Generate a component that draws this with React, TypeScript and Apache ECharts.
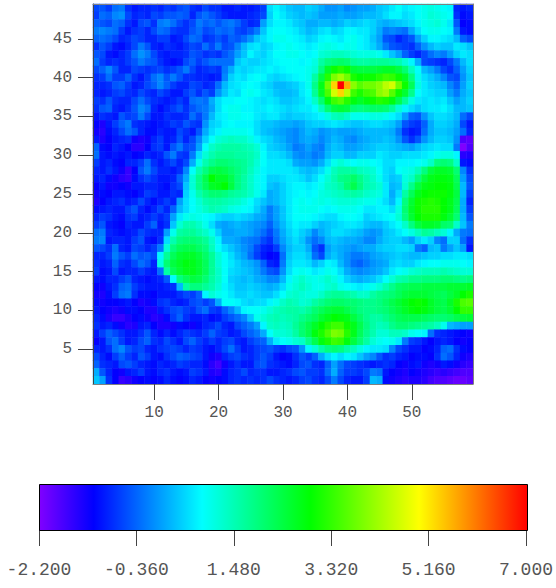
import React, { useEffect, useRef } from "react";
import * as echarts from "echarts";

const rampColors = ["#8000ff","#0000ff","#0080ff","#00ffff","#00ff80","#00ff00","#80ff00","#ffff00","#ff8000","#ff0000"];
const colorbarLabels = ["-2.200","-0.360","1.480","3.320","5.160","7.000"];
const xCategories = Array.from({ length: 59 }, (_, i) => String(i + 1));
const yCategories = Array.from({ length: 49 }, (_, i) => String(i + 1));

// rows from y = 49 (top) down to y = 1, 59 columns each
const valueRows: number[][] = [
[-.6,-.5,-.7,-.3,-.2,-.8,-1,-.9,-.9,-.8,-.9,-.7,-.8,-.6,-.5,-.8,-.9,-.6,-.8,-.8,-1,-1,-.9,-1,-1,-.9,-.7,.6,.8,.6,.4,.3,.3,.5,.4,.2,0,0,.1,-.1,0,.1,.1,.2,.4,.5,.7,.9,.7,.8,.9,1,1.1,1,.9,.8,-.9,-1,-.9],
[-.7,-.3,-.4,-.1,0,-.6,-.9,-.8,-.9,-.6,-.7,-.5,-.5,-.4,-.5,-.9,-.5,-.3,-.5,-.7,-.9,-1,-1,-1,-.9,-.8,-.6,.5,.9,.7,.5,.4,.3,.4,.3,.1,.1,.1,.2,.1,.1,.2,.3,.3,.4,.6,.8,.8,.6,.7,.9,1,1.2,1.1,1,.9,-.8,-1.1,-1],
[-.4,-.5,-.6,-.3,-.4,-.8,-1,-.6,-.5,-.8,-.2,-.1,-.3,-.6,-.8,-.6,-.2,-.4,-.3,-.5,-.3,-.2,-.4,-.7,-.9,-.8,.1,.6,.8,.8,.7,.5,.4,.2,.2,.3,.3,.2,.3,.5,.4,.5,.6,.5,.3,.2,.3,.4,.5,.6,.8,1,1.1,1.2,1,.7,-.5,-1.2,-1.1],
[-.2,-.1,-.2,-.3,-.7,-1,-.8,-.7,-.9,-.6,-.3,-.4,-.7,-.8,-.8,-.5,-.3,-.6,-.5,-.3,-.4,-.3,-.6,-.7,-.5,-.2,.4,.8,.9,.9,.8,.7,.5,.3,.4,.6,.7,.5,.6,.8,.8,.7,.7,.5,.2,-.2,-.1,-.2,-.3,.2,.6,.9,1,1,.9,.8,-.2,-1,-1.1],
[-.4,-.3,-.4,-.6,-.9,-.8,-.6,-.7,-.9,-.9,-.7,-.7,-1,-.9,-.6,-.3,-.4,-.8,-.7,-.5,-.7,-.4,-.5,-.3,0,.4,.6,.8,1,1,.9,.8,.7,.5,.6,.8,.9,.8,.7,.9,1,.8,.7,.4,.1,-.5,-.6,-.9,-.7,-.5,.1,.5,.8,.8,.7,.6,.3,-.4,-.6],
[-.8,-.5,-.7,-1,-1.1,-.9,-.6,-.2,-.5,-.9,-1,-.8,-.9,-1,-.8,-.6,-.7,-.3,-.6,-.2,-.6,-.5,-.1,.3,.6,.7,.5,.6,.8,.9,1,.9,.8,.7,.8,1,1.1,1,.9,1,1,.8,.7,.5,.2,-.2,-.5,-.6,-.7,-.8,-.4,0,.3,.5,.4,.4,.7,.6,.4],
[-.5,-.6,-1,-1.1,-.9,-.7,-.3,0,-.2,-.6,-.9,-1,-.9,-.9,-.8,-.5,-.6,-.8,-.7,-.8,-.5,-.3,.1,.4,.8,.6,.5,.7,.9,.9,1,1,.9,.8,.9,1.2,1.3,1.4,1.4,1.3,1.2,1.1,1.1,1.1,1,.7,.4,.1,-.4,-.7,-.9,-.6,-.3,-.1,-.2,.1,.5,.7,.6],
[-.3,-.7,-.9,-.8,-.9,-.7,-.5,-.2,-.4,-.5,-.8,-1,-1.1,-1,-.6,-.4,-.7,-.5,-.3,-.3,-.3,-.3,.4,.6,.5,.5,.6,.7,.8,.9,.9,.9,.8,.9,1.1,1.6,1.9,2,2.1,2,1.7,1.6,1.6,1.7,1.7,1.7,1.6,1.5,1.2,.8,.2,-.6,-.7,-.8,-.9,-.6,-.2,.3,.6],
[-.6,-.4,-.1,-.5,-.9,-.9,-.6,-.7,-.8,-.7,-.6,-.8,-.7,-.5,-.2,-.6,-.9,-.8,-.7,-.8,-.2,.2,.6,.5,.6,.7,.7,.8,.7,.8,.9,.9,.9,1,1.2,1.9,2.6,3,3.2,3,2.5,2.4,2.4,2.4,2.5,2.6,2.6,2.4,2,1.4,.9,.3,.1,-.2,-.6,-.8,-.4,.1,.5],
[-.8,-.7,-.3,-.7,-.7,-.4,-.8,-1,-.7,-.3,-.1,-.5,-.2,-.5,-.8,-.8,-.9,-.9,-1,-.9,-.1,.5,.7,.6,.8,.9,.8,.6,.5,.6,.7,.8,.9,1,1.6,2.4,3.2,3.9,4.2,3.8,3.1,2.9,3,3,3.2,3.4,3.3,3,2.6,1.9,1,.6,.4,.2,-.1,-.5,-.6,0,.4],
[-.9,-.9,-.8,-.5,-.4,-.7,-1,-.9,-.6,-.4,-.1,-.4,-.7,-.9,-.9,-.6,-.7,-.9,-.8,-.3,.3,.6,.7,.8,.9,.8,.6,.5,.3,.3,.4,.5,.7,1,1.8,2.7,3.8,5.3,7,5.6,4,3.6,3.8,3.8,4,4.4,4.6,3.8,3,2.2,1.1,.7,.5,.4,.3,-.1,-.4,.1,.5],
[-.9,-1,-.9,-.7,-.6,-.8,-.9,-.6,-.8,-.9,-.6,-.8,-1,-1,-.7,-.5,-.8,-.5,-.7,0,.4,.7,.6,.9,1,.9,.7,.6,.4,.3,.3,.4,.7,.9,1.7,2.6,3.5,4.6,5.3,4.4,3.4,3.1,3.4,3.5,4,4.2,3.6,3,2.5,1.8,.9,.7,.6,.5,.5,.1,-.2,.2,.4],
[-.7,-.8,-.5,-.8,-.9,-.9,-.6,-.3,-.6,-.8,-.9,-1,-.9,-.7,-.9,-.3,-.2,-.3,.2,.6,.8,.8,.9,.9,.8,.7,.6,.7,.6,.4,.4,.5,.6,.8,1.3,2,2.8,3.4,3.6,3.2,2.8,2.6,2.8,3,3.2,3.1,2.8,2.3,1.7,1.1,.7,.6,.7,.6,.7,.4,.1,.3,.5],
[-.8,-.5,-.4,-.9,-1,-.8,-.5,-.1,-.3,-.9,-1.1,-.9,-.7,-.5,-.8,-.5,-.3,-.2,.1,.6,.9,1,1,.8,.8,.7,.7,.8,.7,.6,.5,.6,.7,.7,.9,1.4,2,2.4,2.5,2.4,2,1.9,2,2.1,2.1,2,1.7,1.2,.8,.6,.4,.6,.7,.7,.8,.6,.3,.3,.4],
[-1,-.8,-.9,-1,-.5,-.7,-.6,-.2,-.6,-1,-1,-.8,-.9,-.9,-.8,-.3,-.6,-.2,.3,.7,.8,1,1,.9,.9,.7,.6,.7,.7,.5,.4,.5,.5,.6,.7,.8,1.1,1.4,1.5,1.3,1,1,1,1.1,1.1,1,.8,.6,.1,-.4,-.5,0,.4,.6,.6,.5,.3,-.3,-.6],
[-1.2,-1.4,-1,-.7,-.4,-.2,-.8,-.9,-1,-1.1,-1,-.9,-.7,-.8,-.5,-.7,-.8,0,.5,.6,.8,.9,.8,.8,.8,.6,.4,.4,.3,.2,.2,.1,.2,.4,.5,.5,.6,.7,.6,.5,.4,.4,.5,.6,.6,.5,.4,.1,-.5,-.7,-.8,-.4,.2,.5,.5,.4,.2,-.6,-1],
[-1.3,-1.5,-1.1,-.9,-.6,-.3,-.5,-.9,-1.1,-1.1,-.9,-1,-1,-.6,-.8,-1,-.5,.2,.6,.8,1,1,1,1,.9,.6,.4,.3,.2,.1,0,-.1,.1,.3,.2,0,.1,.2,.1,.1,.1,.2,.3,.3,.3,.3,.2,-.2,-.8,-1,-.9,-.3,.2,.4,.4,.3,.1,-.3,-.9],
[-1,-1.4,-1.2,-1,-.9,-.8,-1.3,-1.4,-1.3,-.9,-.7,-1,-.9,-.5,-.9,-.6,-.1,.5,.9,1.2,1.3,1.4,1.3,1.3,1.1,.8,.6,.5,.3,.2,0,-.1,.1,.2,.1,-.1,.1,.3,.2,0,-.1,.1,.2,.3,.3,.4,.3,0,-.5,-.8,-.5,0,.3,.5,.5,.4,0,-1.8,-1.9],
[-.4,-1.1,-1.2,-.9,-1,-1.2,-1.5,-1.5,-1.2,-.8,-.7,-1,-.5,-.2,-.6,-.5,.1,.9,1.3,1.5,1.6,1.6,1.6,1.5,1.4,1.2,.8,.5,.4,.3,.1,-.2,-.1,.1,-.1,-.2,.2,.4,.3,.1,.1,.2,.3,.4,.5,.5,.4,.3,.2,.1,.3,.5,.6,.7,.6,.6,-.2,-2.2,-1.8],
[-.3,-1,-1.1,-1,-1.1,-1,-1.2,-1.1,-.9,-1,-.9,-.5,-.2,-.7,-.8,-.2,.6,1.2,1.5,1.7,1.7,1.7,1.6,1.6,1.5,1.3,.9,.6,.6,.5,.3,0,-.1,0,-.2,-.1,.3,.5,.5,.3,.3,.5,.5,.5,.7,.6,.5,.5,.6,.6,.6,.7,.8,1,1.1,1.1,.8,-1.5,-1.4],
[-.7,-1,-.9,-1.1,-1.2,-.9,-.9,-.7,-.3,-.8,-1,-.8,-.6,-.9,-.6,.2,1,1.5,1.8,2,2,1.9,1.8,1.7,1.5,1.2,.9,.7,.7,.7,.6,.2,.1,.1,0,.2,.6,1,1.2,1,.9,1,1,.9,.8,.6,.6,.8,.8,.8,.9,1,1.3,1.9,2,1.9,1.3,-1,-1.1],
[-.9,-1,-.8,-1,-1.3,-1.6,-1.2,-.5,-.2,-.6,-.9,-.9,-1,-.8,-.1,.9,1.5,1.9,2.3,2.4,2.3,2.1,1.9,1.7,1.4,1.1,.8,.7,.7,.7,.7,.6,.4,.3,.4,.6,1,1.4,1.6,1.6,1.6,1.4,1.3,1.2,.9,.6,.5,.9,1,1.1,1.4,1.9,2.4,2.6,2.6,2.5,2,-.1,-.8],
[-1,-.9,-1.1,-1.3,-1.5,-1.6,-1.1,-.8,-.6,-.8,-1,-1,-.9,-.4,.2,1.2,1.8,2.3,2.9,2.6,2.6,2.3,1.9,1.6,1.3,1,.8,.5,.5,.6,.7,.7,.6,.4,.6,.9,1.2,1.5,1.8,1.9,2.1,1.8,1.5,1.3,1,.6,.4,.5,1.1,1.3,1.9,2.4,2.7,2.8,2.8,2.7,2.2,.1,-.6],
[-1.2,-1,-1.3,-1.3,-1.2,-1.3,-1,-1,-.9,-.9,-1,-1.1,-.8,-.6,.4,1.2,1.8,2.2,2.6,2.7,2.9,2.4,1.9,1.6,1.3,1,.8,.4,.3,.5,.7,.8,.8,.7,.8,1,1.3,1.4,1.6,2,2.3,1.9,1.5,1.4,1.2,.7,.3,.4,1.2,1.8,2.4,2.7,2.8,2.9,2.9,2.8,2.3,.3,-.5],
[-1.3,-1.1,-1.2,-1,-1,-1.1,-1.2,-1,-.7,-.8,-1,-1,-.8,-.9,.5,1,1.5,1.8,2,2,1.9,1.7,1.6,1.5,1.3,1,.7,.2,.3,.5,.7,.8,.9,.8,.9,1.1,1.2,1.3,1.4,1.5,1.6,1.5,1.3,1.2,1.1,.7,.2,.6,1.6,2.2,2.7,2.9,3,3,3,2.8,2.4,.3,-.7],
[-1.4,-1.2,-1,-.9,-.8,-1,-.9,-.6,-.9,-1.1,-.9,-.7,-.9,.1,.6,.9,1.2,1.5,1.6,1.6,1.5,1.4,1.3,1.1,.9,.6,.4,.2,.3,.5,.7,.9,1,.9,1,1.1,1,1.1,1.2,1.2,1.2,1.1,1,1,.8,.6,.3,.8,1.9,2.5,3,3.1,3.2,3.1,2.9,2.7,2.3,.2,-.9],
[-1.1,-1,-.9,-1,-1,-.7,-.5,-.9,-1.1,-.9,-.6,-.9,-.4,.3,.6,.9,1.1,1.3,1.5,1.4,1.3,1.1,1,.9,.8,.5,.2,-.2,.1,.4,.7,.9,1,1,1,.9,.8,.9,1,1,1,.9,.7,.7,.8,.8,.6,1.1,2,2.6,3,3.2,3.2,3.2,2.9,2.7,2.2,.2,-.7],
[-.9,-.7,-.8,-1,-1.1,-.8,-.7,-1,-.9,-.7,-.9,-.7,.1,.7,1,1.1,1,.9,.8,.6,.5,.5,.6,.5,.4,.2,.1,-.2,.1,.4,.7,.9,.9,.9,.8,.7,.6,.6,.8,.9,.9,.8,.5,.6,.7,.8,.9,1.2,1.9,2.5,2.9,3.1,3.1,3.1,2.8,2.5,2,.3,-.5],
[-.7,-.5,-1,-1.1,-1.2,-.9,-1,-1,-.7,-.4,-1,-.8,.4,1.2,1.5,1.5,1.3,1,.6,.2,.1,.2,.3,.2,.1,0,-.1,-.4,0,.3,.6,.8,.7,.7,.5,.3,.4,.5,.6,.7,.7,.6,.4,.3,.3,.5,.7,.9,1.3,1.9,2.4,2.6,2.6,2.5,2.1,2,1.3,.4,-.2],
[-.3,-.2,-.9,-1,-1.1,-1,-.9,-.6,-.8,-.9,-.9,.1,1,1.6,1.7,1.7,1.5,1.3,1,.5,.1,.1,.2,.2,.1,-.1,-.3,-.6,-.2,.2,.5,.7,.5,.3,-.1,.2,.4,.6,.6,.5,.4,.3,.1,0,.1,.4,.5,.7,.9,1.1,1.4,1.7,1.6,1.4,1.2,.8,.2,-.2,-.3],
[-.2,-.1,-1,-.9,-.9,-1,-.7,-.5,-1,-1.1,-.8,.6,1.5,1.9,2,2,1.9,1.7,1.3,.8,.2,.2,.1,-.1,-.2,-.3,-.6,-.8,-.3,.1,.4,.6,.4,0,-.3,-.1,.3,.4,.3,.2,.2,.1,-.1,-.1,.2,.4,.5,.5,.3,.1,.5,.7,.5,-.1,-.3,.5,.5,-.3,-.8],
[-.5,-.6,-.8,-.3,-.9,-1,-.6,-.7,-.9,-.7,-.2,1.2,1.9,2.2,2.3,2.3,2.1,1.9,1.4,.9,.6,.4,.2,0,-.2,-.6,-.9,-1,-.7,-.1,.3,.5,.5,.2,-.5,-.8,.1,.3,.2,.1,0,.1,.2,.2,.4,.5,.5,.6,.6,.5,-.2,-.4,.3,.4,-.2,.1,.4,.1,-1],
[-.9,-.9,-.7,-.2,-.5,-.7,-.3,-.5,-.4,-.6,.8,1.7,2.2,2.5,2.6,2.6,2.4,2.1,1.7,1.2,.9,.6,.3,.1,-.3,-.7,-1,-1.2,-1.1,-.3,.4,.6,.6,.4,-.3,-.6,.2,.4,.2,0,-.2,-.2,-.1,.1,.2,.3,.4,.5,.4,.3,.3,.4,.5,.5,.6,.6,.7,.7,.6],
[-.8,-1,-.9,-.4,-.8,-.9,-.6,-.3,-.5,-.9,1.1,2,2.4,2.6,2.8,2.7,2.5,2.2,1.7,1.2,.9,.7,.5,.3,.2,0,-.4,-.9,-1,-.2,.5,.7,.7,.6,.3,.5,.8,.7,.3,0,-.3,-.4,-.2,0,.1,.2,.5,.6,.5,.5,.7,.8,.9,.9,1,1,1,.9,.8],
[-.7,-1.1,-1,-.6,-1,-.9,-.9,-.7,-.9,-1,-.3,1.6,2.2,2.5,2.7,2.7,2.5,2.2,1.7,1.3,.9,.6,.5,.4,.3,.1,-.2,-.5,-.6,0,.6,.9,1,.9,.7,.8,1,.9,.6,.2,0,-.1,0,.1,.2,.4,.7,.9,1,1.2,1.3,1.4,1.4,1.4,1.5,1.4,1.3,1.2,1.2],
[-1,-1.1,-.9,-.9,-.7,-.5,-.9,-1,-1.1,-1,-.9,-.5,.9,1.9,2.2,2.4,2.3,2,1.6,1.3,.9,.5,.4,.3,.4,.2,.1,-.1,-.1,.3,.8,1.1,1.3,1.1,1,1.1,1.3,1.1,.8,.5,.3,.2,.3,.4,.6,.9,1.2,1.5,1.6,1.8,1.8,1.9,1.9,1.9,2,2,1.9,1.8,1.9],
[-1.2,-1.3,-1,-.8,-.4,-.3,-.7,-.9,-1,-1,-1,-.9,-.8,.3,1.6,1.9,1.9,1.7,1.5,1.2,.8,.6,.4,.4,.5,.4,.3,.2,.3,.6,1,1.2,1.4,1.2,1,1,1.2,1.3,1,.9,.8,.7,.8,1,1.2,1.5,1.8,2.1,2.2,2.3,2.3,2.4,2.4,2.4,2.4,2.5,2.5,2.5,2.6],
[-1.3,-1.4,-1.1,-.7,-.3,-.2,-.8,-1.1,-1.1,-1.2,-1,-1,-1,-.8,-.6,-.7,-.4,.8,1.2,1,.9,.7,.5,.5,.6,.5,.4,.4,.6,.9,1.2,1.3,1.2,1.1,1.1,1.3,1.6,1.7,1.7,1.6,1.5,1.3,1.3,1.6,1.8,1.9,2,2.2,2.4,2.5,2.5,2.5,2.4,2.3,2.2,2.4,2.6,2.9,3.1],
[-1.1,-1.3,-1.2,-1.2,-1.1,-1,-1.2,-1.4,-1.3,-1.1,-.8,-.7,-.9,-1,-.9,-.6,-.5,-.7,-.5,.2,.9,.9,.8,.6,.5,.6,.6,.8,1,1.3,1.5,1.4,1.2,1.3,1.6,1.8,2,2.1,2.1,2,2,1.9,1.8,1.8,1.9,2.1,2.3,2.5,2.7,2.9,3,2.9,2.6,2.4,2.3,2.6,3.1,3.5,3.6],
[-1,-1.2,-1.3,-1.4,-1.3,-1.1,-1.1,-1.2,-1.4,-1.4,-1,-.8,-.6,-.5,-.7,-.8,-.5,-.3,-.7,-.8,-.4,-.1,.3,.8,.9,.9,1,1.2,1.4,1.5,1.6,1.6,1.5,1.7,2,2.2,2.4,2.5,2.5,2.3,2.1,1.9,1.8,1.8,1.9,2,2.2,2.4,2.6,2.8,2.9,2.8,2.6,2.4,2.3,2.5,2.9,3.3,3.3],
[-.9,-1.1,-1.4,-1.6,-1.6,-1.4,-1.2,-1.1,-1.3,-1.5,-1.4,-1.1,-.7,-.4,-.8,-1,-1,-.9,-1.1,-1,-.7,-.5,-.3,-.1,.4,1,1.2,1.4,1.5,1.4,1.5,1.6,1.8,2,2.2,2.5,2.7,2.9,2.8,2.7,2.4,2.1,1.8,1.6,1.6,1.8,2,2.2,2.3,2.3,2.3,2.2,2.1,2,2,2.1,2.3,2.4,2.5],
[-.8,-1,-.9,-1.1,-1.3,-1.5,-1.4,-1,-.9,-1.2,-1.4,-1.4,-1.3,-1.1,-1.2,-1.3,-1.1,-.9,-.8,-.6,-.9,-1,-.6,-.4,-.2,.1,.8,1.3,1.4,1.3,1.4,1.7,2,2.3,2.6,2.9,3.2,3.4,3.4,3,2.7,2.3,1.9,1.6,1.4,1.5,1.8,2,2,1.9,1.8,1.7,1.6,1.4,1,.3,.2,.1,.1],
[-1,-.7,-.4,-.6,-.8,-1,-1,-.8,-.5,-.9,-1.1,-.9,-1.1,-.9,-.7,-.8,-.9,-.7,-.4,-.7,-.8,-1,-.9,-.6,-.4,-.2,.2,.9,1.2,1.2,1.3,1.6,2,2.3,2.8,3.1,3.5,3.9,3.8,3.2,2.7,2.2,1.8,1.5,1.2,1.2,1.4,1.4,1.3,1,.9,.8,-.3,-.8,-.9,-1,-1.1,-1.2,-1.3],
[-1.2,-1,-.5,-.3,-.7,-1,-.9,-.6,-.4,-.8,-.9,-.6,-.8,-1,-.6,-.4,-.7,-.9,-.7,-.9,-.7,-.6,-.9,-1,-.7,-.5,-.4,.2,.7,.9,1,1.2,1.3,1.8,2.3,2.8,3.1,3.4,3.3,2.8,2.4,2,1.6,1.2,1,.9,1,.7,-.2,-.7,-.8,-1,-1.2,-1,-.9,-1,-1.2,-1.3,-1.2],
[-.9,-1,-.8,-.3,-.1,-.5,-.7,-.6,-.9,-1,-.8,-.7,-.6,-.7,-.9,-.7,-.8,-1,-1.1,-.9,-.6,-.3,-.7,-1,-.9,-.7,-.6,-.5,-.7,-.8,-.6,-.5,0,.8,1.2,1.6,1.9,2,1.9,1.6,1.4,1.1,.8,.7,.7,.6,-.1,-.6,-.8,-1,-1,-1.2,-1.1,-.9,-.4,-.3,-.8,-1.1,-1.2],
[-.6,-.9,-1.1,-.7,-.4,-.7,-.9,-.5,-.7,-1,-1.1,-.8,-.6,-.4,-.5,-.6,-.7,-1,-1.3,-1.4,-.9,-.7,-.6,-.8,-.9,-.7,-.5,-.7,-1,-1.2,-1.1,-.8,-.5,-.7,-.4,.2,.6,.8,.6,.8,.7,.4,.1,-.1,-.5,-.8,-.7,-.9,-1,-1.2,-1.1,-1.1,-1.2,-.8,-.3,-.5,-.9,-1.3,-1.4],
[-.4,-.8,-.9,-1,-.6,-.5,-.7,-.9,-1,-1.1,-.9,-1,-.9,-.7,-.8,-.9,-.9,-1.1,-1.5,-1.7,-1.3,-1,-.8,-1,-1,-.6,-.5,-.8,-.9,-1,-1.1,-.9,-.6,-.5,-.8,-.9,-.4,.1,-.3,-.6,-.7,-.8,-.9,-1,-.9,-.8,-.9,-1.2,-1.3,-1.1,-1,-1.3,-1.4,-1.3,-1,-1.1,-1.3,-1.5,-1.6],
[.2,-.5,-.9,-1.2,-1.3,-1,-.9,-.7,-1,-1.1,-.9,-.8,-1,-1.1,-1,-.7,-.8,-1,-1.4,-1.5,-1.1,-.9,-.8,-.6,-.9,-.8,-.8,-1,-1,-.9,-.8,-.6,-.5,-.7,-.7,-.8,-.3,.2,-.4,-.7,-.7,-.8,-.6,-.2,-.3,-1,-1.2,-1.3,-1.4,-1.2,-1.3,-1.4,-1.5,-1.6,-1.5,-1.6,-1.7,-1.8,-1.8],
[.4,.1,-.8,-1.2,-1.6,-1.5,-1.3,-1.2,-1.1,-1.2,-1.1,-.9,-1.1,-1.2,-1.1,-.9,-1,-1.2,-1.3,-1.2,-1.1,-.9,-.8,-.9,-.8,-.9,-.8,-.6,-.8,-.9,-1,-.9,-.7,-.6,-.8,-.9,-.6,-.2,-.6,-.9,-1,-1,-.7,.3,.2,-1.1,-1.3,-1.4,-1.5,-1.4,-1.4,-1.5,-1.7,-1.8,-1.8,-1.9,-2,-2,-1.9],
];

const heatData: number[][] = [];
valueRows.forEach((row, r) => {
  row.forEach((v, c) => heatData.push([c, 48 - r, v]));
});

const monoFont = "Liberation Mono";

export default function App() {
  const ref = useRef<HTMLDivElement>(null);
  useEffect(() => {
    const chart = echarts.init(ref.current!, null, { renderer: "svg" });
    const stops = rampColors.map((color, i) => ({ offset: i / (rampColors.length - 1), color }));
    const frame = { lineStyle: { color: "#808080", width: 1 } };
    chart.setOption({
      animation: false,
      backgroundColor: "#ffffff",
      grid: [
        { left: 93, top: 4, width: 380, height: 380 },
        { left: 39, top: 484, width: 488, height: 46 },
      ],
      xAxis: [
        {
          type: "category", gridIndex: 0, data: xCategories, z: 5,
          axisLine: { show: true, ...frame },
          axisTick: { show: true, alignWithLabel: true, length: 16, lineStyle: { color: "#444" }, interval: (_: number, v: string) => +v % 10 === 0 },
          axisLabel: { interval: (_: number, v: string) => +v % 10 === 0, fontFamily: monoFont, fontSize: 16, color: "#555", margin: 21 },
        },
        {
          type: "category", gridIndex: 0, position: "top", data: xCategories, z: 5,
          axisLine: { show: true, ...frame }, axisTick: { show: false }, axisLabel: { show: false },
        },
        {
          type: "value", gridIndex: 1, min: 0, max: 5, interval: 1, position: "bottom",
          axisLine: { show: false }, splitLine: { show: false },
          axisTick: { show: true, length: 16, lineStyle: { color: "#444" } },
          axisLabel: {
            fontFamily: monoFont, fontSize: 18, color: "#555", margin: 31,
            formatter: (v: number) => colorbarLabels[v],
          },
        },
      ],
      yAxis: [
        {
          type: "category", gridIndex: 0, data: yCategories, z: 5,
          axisLine: { show: true, lineStyle: { color: "#444", width: 1 } },
          axisTick: { show: true, alignWithLabel: true, length: 15, lineStyle: { color: "#444" }, interval: (_: number, v: string) => +v % 5 === 0 },
          axisLabel: { interval: (_: number, v: string) => +v % 5 === 0, fontFamily: monoFont, fontSize: 16, color: "#555", margin: 21 },
        },
        {
          type: "category", gridIndex: 0, position: "right", data: yCategories, z: 5,
          axisLine: { show: true, ...frame }, axisTick: { show: false }, axisLabel: { show: false },
        },
        { type: "value", gridIndex: 1, min: 0, max: 1, show: false },
      ],
      visualMap: {
        show: false, type: "continuous", min: -2.2, max: 7, seriesIndex: 0,
        inRange: { color: rampColors },
      },
      series: [
        {
          type: "heatmap", xAxisIndex: 0, yAxisIndex: 0, data: heatData,
          progressive: 0, itemStyle: { borderWidth: 0 },
        },
      ],
      graphic: [
        {
          type: "rect", left: 39, top: 484, z: 10,
          shape: { width: 488, height: 46 },
          style: {
            fill: new echarts.graphic.LinearGradient(0, 0, 1, 0, stops),
            stroke: "#000", lineWidth: 1,
          },
        },
      ],
    });
    return () => chart.dispose();
  }, []);
  return <div ref={ref} style={{ position: "fixed", left: 0, top: 0, width: 556, height: 588 }} />;
}
